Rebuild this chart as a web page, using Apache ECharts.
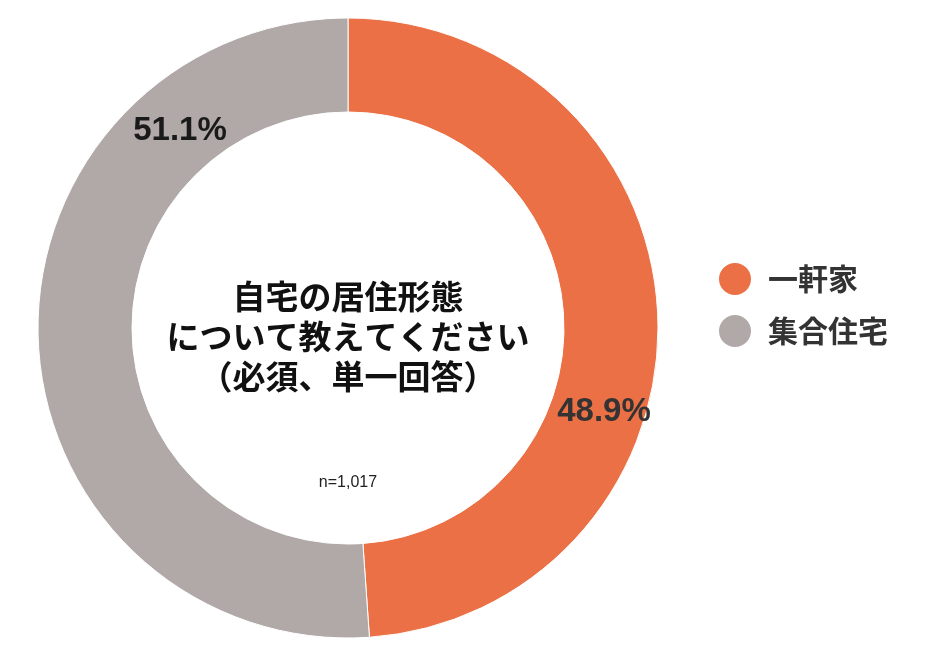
<!DOCTYPE html>
<html><head><meta charset="utf-8">
<script src="https://cdn.jsdelivr.net/npm/echarts@6/dist/echarts.min.js"></script>
<style>html,body{margin:0;padding:0;background:#fff}#c{width:934px;height:666px}</style>
</head><body><div id="c"></div>
<script>
const categories = ['一軒家', '集合住宅'];
const values = [48.9, 51.1];
const colors = ['#EC7045', '#B1A9A8'];
const labelColors = ['#333333', '#1a1a1a'];
const centerTitle = '自宅の居住形態\nについて教えてください\n（必須、単一回答）';
const sampleNote = 'n=1,017';
const labelPos = [[604, 412], [180, 131]];

const chart = echarts.init(document.getElementById('c'));
chart.setOption({
  backgroundColor: '#fff',
  animation: false,
  legend: {
    orient: 'vertical',
    left: 712, top: 256,
    icon: 'circle',
    itemWidth: 56, itemHeight: 34, itemGap: 16,
    textStyle: { fontSize: 30, fontWeight: 'bold', color: '#333', fontFamily: 'Noto Sans CJK JP' },
    data: categories
  },
  graphic: [
    { type: 'text', x: 348, y: 336, style: { text: centerTitle, align: 'center', verticalAlign: 'middle', font: 'bold 33px "Noto Sans CJK JP"', lineHeight: 40, fill: '#111' } },
    { type: 'text', x: 348, y: 483, style: { text: sampleNote, align: 'center', verticalAlign: 'middle', font: '16px "Liberation Sans"', fill: '#222' } }
  ],
  series: [{
    type: 'pie',
    center: [348, 328],
    radius: [216, 310],
    startAngle: 90,
    clockwise: true,
    avoidLabelOverlap: false,
    itemStyle: { borderColor: '#fff', borderWidth: 1 },
    label: {
      show: true, position: 'inside',
      formatter: p => p.value.toFixed(1) + '%',
      fontFamily: 'Liberation Sans', fontWeight: 'bold', fontSize: 33
    },
    labelLayout: p => ({ x: labelPos[p.dataIndex][0], y: labelPos[p.dataIndex][1], align: 'center', verticalAlign: 'middle' }),
    emphasis: { disabled: true },
    data: categories.map((n, i) => ({ name: n, value: values[i], itemStyle: { color: colors[i] }, label: { color: labelColors[i] } }))
  }]
});
</script></body></html>
